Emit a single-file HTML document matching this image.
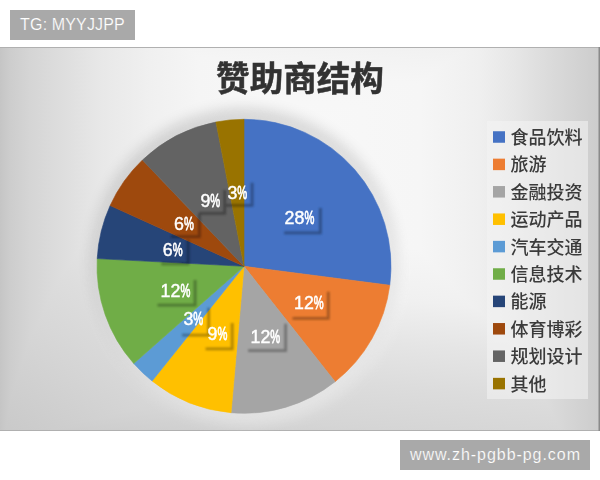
<!DOCTYPE html>
<html lang="zh"><head><meta charset="utf-8"><title>赞助商结构</title>
<style>
html,body{margin:0;padding:0;background:#fff;}
body{width:600px;height:480px;position:relative;overflow:hidden;font-family:"Liberation Sans","Noto Sans CJK SC",sans-serif;}
.tag{position:absolute;background:#a9a9a9;color:#fff;font-size:16px;line-height:30px;height:30px;text-align:center;white-space:nowrap;-webkit-text-stroke:.18px #a9a9a9;}
#t1{left:10px;top:10px;width:125px;letter-spacing:.15px;}
#t2{left:400px;top:440px;width:190px;letter-spacing:.95px;text-indent:.95px;}
#chart{position:absolute;left:0;top:47px;width:600px;height:384px;
background:
 linear-gradient(to bottom left,#fff 0,#fff 52%,#ebebeb 60%,#dddddd 75%,#d7d7d7 83%,#c9c9c9 100%),
 linear-gradient(90deg,#c5c5c5 0,#cdcdcd 1.7%,#d5d5d5 5%,#dddddd 10%,#e8e8e8 17%,#f0f0f0 25%,#f5f5f5 33%,#f8f8f8 50%,#f6f6f6 70%,#efefef 80%,#e6e6e6 86%,#dadada 92%,#cccccc 100%),
 linear-gradient(185deg,#efefef 0,#f6f6f6 12%,#f8f8f8 25%,#f6f6f6 50%,#f0f0f0 62%,#e5e5e5 72%,#dcdcdc 82%,#d5d5d5 92%,#cbcbcb 100%);
background-blend-mode:darken;}
svg{display:block}
.ttl{font:bold 33.6px "Liberation Sans","Noto Sans CJK SC",sans-serif;fill:#333;stroke:#333;stroke-width:.5px;}
.dl{font:18.0px "Liberation Sans","Noto Sans CJK SC",sans-serif;fill:#fff;stroke:#fff;stroke-width:.45px;}
.pc{stroke-width:.8px;}
.lg{font:500 18px "Liberation Sans","Noto Sans CJK SC",sans-serif;fill:#3a3a3a;}
</style></head><body>
<div class="tag" id="t1">TG: MYYJJPP</div>
<div id="chart">
<svg width="600" height="384" viewBox="0 47 600 384">
<defs>
<filter id="halo" x="-20%" y="-20%" width="140%" height="140%"><feGaussianBlur stdDeviation="7.5"/></filter>
<filter id="soft" x="-5%" y="-5%" width="110%" height="110%"><feGaussianBlur stdDeviation=".7"/></filter>
<filter id="sh" x="-20%" y="-20%" width="140%" height="140%"><feGaussianBlur stdDeviation="1"/></filter>
</defs>
<rect x="0" y="47" width="600" height="1" fill="#b0b0b0"/>
<rect x="0" y="430" width="600" height="1" fill="#b0b0b0"/>
<rect x="598.5" y="47" width="1.5" height="384" fill="#8a8a8a"/>
<rect x="487" y="121" width="101" height="278" fill="#f4f4f4" opacity=".55"/>
<circle cx="244" cy="261" r="151" fill="#000" opacity=".17" filter="url(#halo)"/>
<circle cx="247" cy="272" r="150" fill="#fff" opacity=".55" filter="url(#halo)"/>
<g filter="url(#soft)">
<text x="300" y="91" text-anchor="middle" class="ttl">赞助商结构</text>
<g>
<path d="M244.0,266.3 L244.00,119.30 A147,147 0 0 1 389.78,285.23 Z" fill="#4472C4" stroke="#4472C4" stroke-width=".6" stroke-linejoin="round"/>
<path d="M244.0,266.3 L389.78,285.23 A147,147 0 0 1 335.11,381.66 Z" fill="#ED7D31" stroke="#ED7D31" stroke-width=".6" stroke-linejoin="round"/>
<path d="M244.0,266.3 L335.11,381.66 A147,147 0 0 1 231.06,412.73 Z" fill="#A5A5A5" stroke="#A5A5A5" stroke-width=".6" stroke-linejoin="round"/>
<path d="M244.0,266.3 L231.06,412.73 A147,147 0 0 1 152.09,381.02 Z" fill="#FFC000" stroke="#FFC000" stroke-width=".6" stroke-linejoin="round"/>
<path d="M244.0,266.3 L152.09,381.02 A147,147 0 0 1 133.73,363.51 Z" fill="#5B9BD5" stroke="#5B9BD5" stroke-width=".6" stroke-linejoin="round"/>
<path d="M244.0,266.3 L133.73,363.51 A147,147 0 0 1 97.20,258.61 Z" fill="#70AD47" stroke="#70AD47" stroke-width=".6" stroke-linejoin="round"/>
<path d="M244.0,266.3 L97.20,258.61 A147,147 0 0 1 110.13,205.57 Z" fill="#264478" stroke="#264478" stroke-width=".6" stroke-linejoin="round"/>
<path d="M244.0,266.3 L110.13,205.57 A147,147 0 0 1 142.44,160.02 Z" fill="#9E480E" stroke="#9E480E" stroke-width=".6" stroke-linejoin="round"/>
<path d="M244.0,266.3 L142.44,160.02 A147,147 0 0 1 215.95,122.00 Z" fill="#636363" stroke="#636363" stroke-width=".6" stroke-linejoin="round"/>
<path d="M244.0,266.3 L215.95,122.00 A147,147 0 0 1 244.00,119.30 Z" fill="#997300" stroke="#997300" stroke-width=".6" stroke-linejoin="round"/>
</g>
<g fill="#000" opacity=".3" filter="url(#sh)">
<path d="M319.0,208.1 H321.8 V234.2 H284.1 V231.4 H319.0 Z"/>
<path d="M326.9,291.8 H329.7 V319.7 H292.5 V316.9 H326.9 Z"/>
<path d="M284.2,323.8 H287.0 V352.0 H248.1 V349.2 H284.2 Z"/>
<path d="M230.8,323.1 H233.6 V350.3 H205.6 V347.5 H230.8 Z"/>
<path d="M207.3,307.8 H210.1 V336.5 H182.1 V333.7 H207.3 Z"/>
<path d="M193.7,280.0 H196.5 V306.5 H157.5 V303.7 H193.7 Z"/>
<path d="M186.7,239.8 H189.5 V265.3 H161.3 V262.5 H186.7 Z"/>
<path d="M198.0,214.1 H200.8 V238.1 H170.8 V235.3 H198.0 Z"/>
<path d="M223.3,190.1 H226.1 V214.8 H198.8 V212.0 H223.3 Z"/>
<path d="M250.7,182.8 H253.5 V206.8 H226.1 V204.0 H250.7 Z"/>
</g>
<text x="284.6" y="223.8" class="dl"><tspan textLength="19.8" lengthAdjust="spacingAndGlyphs">28</tspan><tspan class="pc" textLength="9.9" lengthAdjust="spacingAndGlyphs">%</tspan></text>
<text x="294.0" y="308.8" class="dl"><tspan textLength="19.8" lengthAdjust="spacingAndGlyphs">12</tspan><tspan class="pc" textLength="9.9" lengthAdjust="spacingAndGlyphs">%</tspan></text>
<text x="250.5" y="342.7" class="dl"><tspan textLength="19.8" lengthAdjust="spacingAndGlyphs">12</tspan><tspan class="pc" textLength="9.9" lengthAdjust="spacingAndGlyphs">%</tspan></text>
<text x="207.6" y="340.2" class="dl"><tspan textLength="9.9" lengthAdjust="spacingAndGlyphs">9</tspan><tspan class="pc" textLength="9.9" lengthAdjust="spacingAndGlyphs">%</tspan></text>
<text x="183.4" y="324.8" class="dl"><tspan textLength="9.9" lengthAdjust="spacingAndGlyphs">3</tspan><tspan class="pc" textLength="9.9" lengthAdjust="spacingAndGlyphs">%</tspan></text>
<text x="160.6" y="296.8" class="dl"><tspan textLength="19.8" lengthAdjust="spacingAndGlyphs">12</tspan><tspan class="pc" textLength="9.9" lengthAdjust="spacingAndGlyphs">%</tspan></text>
<text x="162.8" y="255.7" class="dl"><tspan textLength="9.9" lengthAdjust="spacingAndGlyphs">6</tspan><tspan class="pc" textLength="9.9" lengthAdjust="spacingAndGlyphs">%</tspan></text>
<text x="174.1" y="230.1" class="dl"><tspan textLength="9.9" lengthAdjust="spacingAndGlyphs">6</tspan><tspan class="pc" textLength="9.9" lengthAdjust="spacingAndGlyphs">%</tspan></text>
<text x="200.4" y="206.7" class="dl"><tspan textLength="9.9" lengthAdjust="spacingAndGlyphs">9</tspan><tspan class="pc" textLength="9.9" lengthAdjust="spacingAndGlyphs">%</tspan></text>
<text x="227.4" y="199.1" class="dl"><tspan textLength="9.9" lengthAdjust="spacingAndGlyphs">3</tspan><tspan class="pc" textLength="9.9" lengthAdjust="spacingAndGlyphs">%</tspan></text>
<rect x="493" y="131.25" width="12" height="11.5" fill="#4472C4"/><text x="510.5" y="144.00" class="lg">食品饮料</text>
<rect x="493" y="158.65" width="12" height="11.5" fill="#ED7D31"/><text x="510.5" y="171.40" class="lg">旅游</text>
<rect x="493" y="186.05" width="12" height="11.5" fill="#A5A5A5"/><text x="510.5" y="198.80" class="lg">金融投资</text>
<rect x="493" y="213.45" width="12" height="11.5" fill="#FFC000"/><text x="510.5" y="226.20" class="lg">运动产品</text>
<rect x="493" y="240.85" width="12" height="11.5" fill="#5B9BD5"/><text x="510.5" y="253.60" class="lg">汽车交通</text>
<rect x="493" y="268.25" width="12" height="11.5" fill="#70AD47"/><text x="510.5" y="281.00" class="lg">信息技术</text>
<rect x="493" y="295.65" width="12" height="11.5" fill="#264478"/><text x="510.5" y="308.40" class="lg">能源</text>
<rect x="493" y="323.05" width="12" height="11.5" fill="#9E480E"/><text x="510.5" y="335.80" class="lg">体育博彩</text>
<rect x="493" y="350.45" width="12" height="11.5" fill="#636363"/><text x="510.5" y="363.20" class="lg">规划设计</text>
<rect x="493" y="377.85" width="12" height="11.5" fill="#997300"/><text x="510.5" y="390.60" class="lg">其他</text>
</g>
</svg>
</div>
<div class="tag" id="t2">www.zh-pgbb-pg.com</div>
</body></html>
